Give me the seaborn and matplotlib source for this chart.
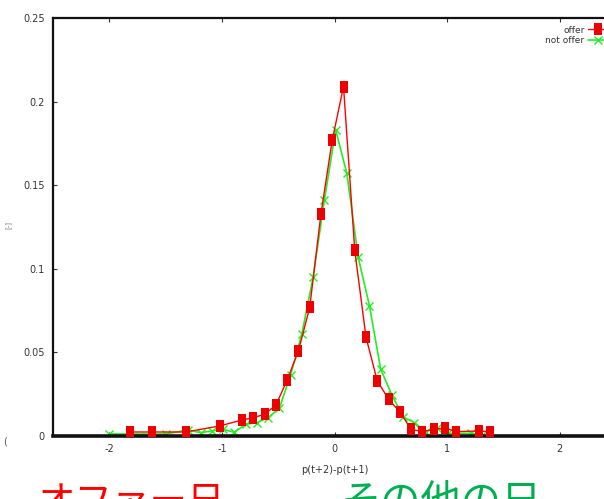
import matplotlib
matplotlib.use("Agg")
import matplotlib.pyplot as plt
from matplotlib.path import Path
import seaborn as sns
import pandas as pd

# Distribution of p(t+2)-p(t+1) on offer days vs other days
offer_x = [-1.82, -1.62, -1.32, -1.02, -0.82, -0.72, -0.62, -0.52, -0.42, -0.32,
           -0.22, -0.12, -0.02, 0.08, 0.18, 0.28, 0.38, 0.48, 0.58, 0.68,
           0.78, 0.88, 0.98, 1.08, 1.28, 1.38]
offer_y = [0.0024, 0.0024, 0.0024, 0.006, 0.0096, 0.011, 0.013, 0.0185, 0.0335, 0.051,
           0.077, 0.133, 0.177, 0.209, 0.111, 0.059, 0.033, 0.022, 0.0145, 0.004,
           0.0026, 0.004, 0.0048, 0.0026, 0.003, 0.0026]

other_x = [-2.0, -1.5, -1.3, -1.19, -1.09, -0.99, -0.89, -0.79, -0.69, -0.59,
           -0.49, -0.39, -0.29, -0.19, -0.09, 0.01, 0.11, 0.21, 0.31, 0.41,
           0.51, 0.61, 0.71, 0.81, 0.91, 1.01, 1.21, 1.31]
other_y = [0.0012, 0.0012, 0.0036, 0.002, 0.003, 0.004, 0.0022, 0.007, 0.008, 0.011,
           0.0166, 0.0365, 0.061, 0.095, 0.141, 0.183, 0.157, 0.107, 0.078, 0.040,
           0.0245, 0.0114, 0.008, 0.0026, 0.005, 0.0016, 0.0016, 0.0006]

series_labels = ["offer", "not offer"]
x_ticks = [-2, -1, 0, 1, 2]
y_ticks = [0, 0.05, 0.1, 0.15, 0.2, 0.25]
y_tick_labels = ["0", "0.05", "0.1", "0.15", "0.2", "0.25"]
x_title = "p(t+2)-p(t+1)"
caption_offer = "オファー日"
caption_other = "その他の日"

sns.set_style("ticks")
plt.rcParams["font.family"] = ["Liberation Sans Narrow", "DejaVu Sans"]

fig = plt.figure(figsize=(6.04, 4.99), dpi=100)
ax = fig.add_axes([53 / 604, 1 - 436 / 499, (616 - 53) / 604, (436 - 18) / 499])

# tall rectangular point marker
rect = Path([(-0.65, -1), (0.65, -1), (0.65, 1), (-0.65, 1), (-0.65, -1)],
            [Path.MOVETO, Path.LINETO, Path.LINETO, Path.LINETO, Path.CLOSEPOLY])

df_offer = pd.DataFrame({"x": offer_x, "y": offer_y})
df_other = pd.DataFrame({"x": other_x, "y": other_y})

sns.lineplot(data=df_offer, x="x", y="y", ax=ax, color="#ff0000", lw=1.0,
             marker=rect, markersize=8, markeredgewidth=0, markerfacecolor="#ee0000",
             sort=False, estimator=None, label=series_labels[0], zorder=3)
sns.lineplot(data=df_other, x="x", y="y", ax=ax, color="#22ee22", lw=1.2,
             marker="x", markersize=6, markeredgewidth=1.0, markeredgecolor="#22ee22",
             sort=False, estimator=None, label=series_labels[1], zorder=2)

ax.set_xlim(-2.5, 2.5)
ax.set_ylim(0, 0.25)
ax.set_xticks(x_ticks)
ax.set_xticklabels([str(v) for v in x_ticks])
ax.set_yticks(y_ticks)
ax.set_yticklabels(y_tick_labels)
ax.tick_params(direction="in", length=3, width=0.8, labelsize=7, pad=6,
               top=True, right=True, colors="#333333")
ax.set_xlabel(x_title, fontsize=7, labelpad=8, color="#333333")
ax.set_ylabel("")

for side, w in (("top", 1.6), ("left", 1.6), ("bottom", 2.6), ("right", 1.6)):
    ax.spines[side].set_linewidth(w)
    ax.spines[side].set_color("#111111")

leg = ax.legend(loc="upper right", bbox_to_anchor=(1.02, 0.965),
                bbox_transform=fig.transFigure, frameon=False, markerfirst=False,
                fontsize=6.5, handlelength=2.2, handletextpad=0.4, labelspacing=0.2)
for t in leg.get_texts():
    t.set_color("#333333")

# stray axis-label fragments at the left edge
fig.text(0.014, 1 - 225 / 499, "[-]", rotation=90, fontsize=5, color="#777777",
         ha="center", va="center")
fig.text(0.008, 1 - 442 / 499, "(", fontsize=7, color="#555555",
         ha="center", va="center")

# large captions along the bottom
cjk = ["Noto Sans CJK JP", "DejaVu Sans"]
fig.text(38 / 604, -0.03, caption_offer, fontsize=27, color="#ff0000",
         family=cjk, ha="left", va="baseline")
fig.text(341 / 604, -0.03, caption_other, fontsize=29, color="#00b050",
         family=cjk, ha="left", va="baseline")

fig.savefig("out.png", dpi=100)
